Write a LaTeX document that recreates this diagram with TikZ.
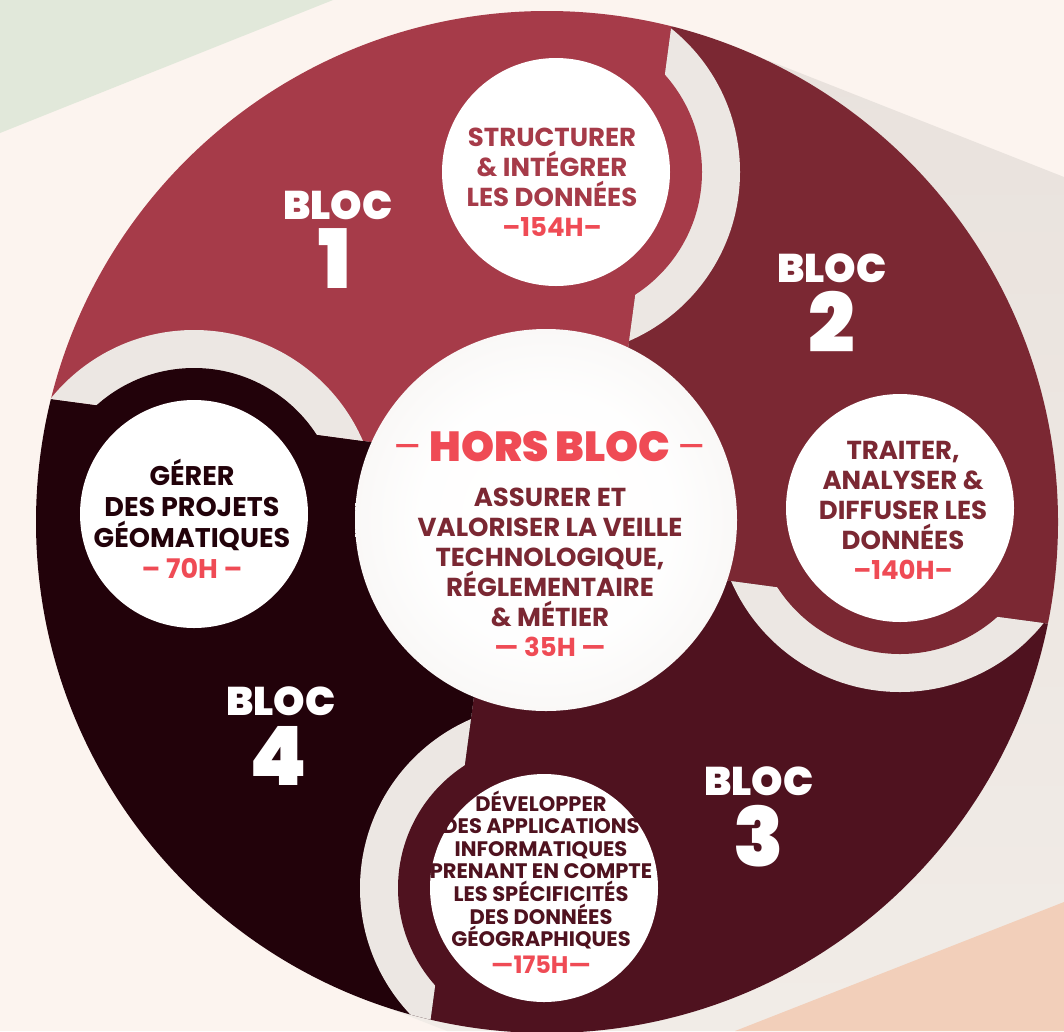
\documentclass[tikz,border=0pt]{standalone}
\usepackage{fontspec}
\setmainfont{Poppins}
\newfontfamily\blocfont{Poppins}[UprightFont=* Black]
\usetikzlibrary{calc}
\newcommand{\pxunit}{1pt}
\definecolor{cream}{HTML}{FCF4EF}
\definecolor{sage}{HTML}{E1E8DA}
\definecolor{peach}{HTML}{F2CFBA}
\definecolor{shadowtop}{HTML}{E9E2DD}
\definecolor{shadowlow}{HTML}{F1ECE7}
\definecolor{halo}{HTML}{ECE7E3}
\definecolor{blocone}{HTML}{A63B49}
\definecolor{bloctwo}{HTML}{7B2833}
\definecolor{blocthree}{HTML}{4F121F}
\definecolor{blocfour}{HTML}{22020A}
\definecolor{hours}{HTML}{EF4B55}
\pgfdeclareradialshading{centreglow}{\pgfpoint{0bp}{0bp}}{color(0bp)=(white); color(16bp)=(white!97!halo); color(50bp)=(halo)}
\newcommand{\bodyone}{(X14) -- ($(X14)!4!(T1b)$) -- (-1500*\pxunit,1500*\pxunit) -- ($(X14)!4!(T4b)$) -- cycle}
\newcommand{\bodytwo}{(X12) -- ($(X12)!4!(T1b)$) -- (2500*\pxunit,1500*\pxunit) -- ($(X12)!4!(T2b)$) -- cycle}
\newcommand{\bodythree}{(X23) -- ($(X23)!4!(T2b)$) -- (2500*\pxunit,-2500*\pxunit) -- ($(X23)!4!(T3b)$) -- cycle}
\newcommand{\bodyfour}{(X34) -- ($(X34)!4!(T3b)$) -- (-1500*\pxunit,-2500*\pxunit) -- ($(X34)!4!(T4b)$) -- cycle}

\begin{document}
\begin{tikzpicture}
\tikzstyle{every node}=[inner sep=0pt, align=center]
\tikzstyle{bloclabel}=[text=white, font={\blocfont\fontsize{40}{40}\selectfont}]
\tikzstyle{blocnum}=[text=white, font={\blocfont\fontsize{82}{82}\selectfont}]
\tikzstyle{circletext}=[font={\bfseries\fontsize{26}{30}\selectfont}]
\useasboundingbox (0,0) rectangle (1064*\pxunit,-1031*\pxunit);

\begin{scope}
\clip (0,0) rectangle (1064*\pxunit,-1031*\pxunit);

\fill[cream] (0,0) rectangle (1064*\pxunit,-1031*\pxunit);

\fill[sage] (0,0) -- (333*\pxunit,0) -- (0,-133*\pxunit) -- cycle;

\shade[top color=shadowtop, bottom color=shadowlow] (734*\pxunit,-47*\pxunit) -- (1064*\pxunit,-177*\pxunit) -- (1064*\pxunit,-1031*\pxunit) -- (447*\pxunit,-1031*\pxunit) -- (360*\pxunit,-997*\pxunit) -- (547*\pxunit,-522*\pxunit) -- cycle;

\fill[peach] (735*\pxunit,-1031*\pxunit) -- (1064*\pxunit,-902*\pxunit) -- (1064*\pxunit,-1031*\pxunit) -- cycle;
\end{scope}

\coordinate (O) at (547*\pxunit,-522*\pxunit);
\coordinate (C) at (546*\pxunit,-520*\pxunit);
\coordinate (W1) at (556*\pxunit,-172*\pxunit);
\coordinate (W2) at (900*\pxunit,-508*\pxunit);
\coordinate (W3) at (544*\pxunit,-888*\pxunit);
\coordinate (W4) at (194*\pxunit,-514*\pxunit);
\coordinate (T1a) at (628*\pxunit,-349*\pxunit);
\coordinate (T1b) at (671*\pxunit,-29*\pxunit);
\coordinate (T2a) at (723*\pxunit,-580*\pxunit);
\coordinate (T2b) at (1043*\pxunit,-623*\pxunit);
\coordinate (T3a) at (472*\pxunit,-711*\pxunit);
\coordinate (T3b) at (429*\pxunit,-1031*\pxunit);
\coordinate (T4a) at (371*\pxunit,-442*\pxunit);
\coordinate (T4b) at (51*\pxunit,-399*\pxunit);
\coordinate (X12) at (intersection of T1a--T1b and T2a--T2b);
\coordinate (X23) at (intersection of T2a--T2b and T3a--T3b);
\coordinate (X34) at (intersection of T3a--T3b and T4a--T4b);
\coordinate (X14) at (intersection of T1a--T1b and T4a--T4b);

\begin{scope}
\clip (O) circle (511*\pxunit);

\fill[blocone] \bodyone;

\fill[bloctwo] \bodytwo;

\fill[blocthree] \bodythree;

\fill[blocfour] \bodyfour;

\begin{scope}
\clip \bodytwo;
\fill[halo] (W1) circle (184*\pxunit);
\end{scope}

\begin{scope}
\clip \bodythree;
\fill[halo] (W2) circle (184*\pxunit);
\end{scope}

\begin{scope}
\clip \bodyfour;
\fill[halo] (W3) circle (184*\pxunit);
\end{scope}

\begin{scope}
\clip \bodyone;
\fill[halo] (W4) circle (184*\pxunit);
\end{scope}

\fill[blocone] (W1) circle (146*\pxunit);
\fill[white] (W1) circle (114*\pxunit);

\fill[bloctwo] (W2) circle (146*\pxunit);
\fill[white] (W2) circle (114*\pxunit);

\fill[blocthree] (W3) circle (146*\pxunit);
\fill[white] (W3) circle (114*\pxunit);

\fill[blocfour] (W4) circle (146*\pxunit);
\fill[white] (W4) circle (114*\pxunit);

\shade[shading=centreglow] (C) circle (191*\pxunit);
\end{scope}

\node[bloclabel] (bloc1) at (338*\pxunit,-205*\pxunit) {BLOC};
\node[blocnum] (num1) at (335*\pxunit,-259*\pxunit) {1};

\node[bloclabel] (bloc2) at (832*\pxunit,-268*\pxunit) {BLOC};
\node[blocnum] (num2) at (832*\pxunit,-322*\pxunit) {2};

\node[bloclabel] (bloc3) at (759*\pxunit,-781*\pxunit) {BLOC};
\node[blocnum] (num3) at (759*\pxunit,-836*\pxunit) {3};

\node[bloclabel] (bloc4) at (281*\pxunit,-701*\pxunit) {BLOC};
\node[blocnum] (num4) at (278*\pxunit,-756*\pxunit) {4};

\node[circletext, text=blocone] (txt1) at (552*\pxunit,-182*\pxunit) {STRUCTURER\\\& INTÉGRER\\LES DONNÉES\\{\color{hours}–154H–}};

\node[circletext, text=bloctwo] (txt2) at (903*\pxunit,-510*\pxunit) {TRAITER,\\ANALYSER \&\\DIFFUSER LES\\DONNÉES\\{\color{hours}–140H–}};

\node[circletext, text=blocthree, font={\bfseries\fontsize{21}{22.6}\selectfont}] (txt3) at (541*\pxunit,-882*\pxunit) {DÉVELOPPER\\DES APPLICATIONS\\INFORMATIQUES\\PRENANT EN COMPTE\\LES SPÉCIFICITÉS\\DES DONNÉES\\GÉOGRAPHIQUES\\[4pt]{\color{hours}\fontsize{24}{24}\selectfont—175H—}};

\node[circletext, text=blocfour, font={\bfseries\fontsize{27}{31}\selectfont}] (txt4) at (192*\pxunit,-519*\pxunit) {GÉRER\\DES PROJETS\\GÉOMATIQUES\\{\color{hours}– 70H –}};

\node[text=hours, font={\blocfont\fontsize{42}{42}\selectfont}] (horsbloc) at (550*\pxunit,-447*\pxunit) {{\normalfont –} HORS BLOC {\normalfont –}};

\node[circletext, text=bloctwo] (txtc) at (550*\pxunit,-572*\pxunit) {ASSURER ET\\VALORISER LA VEILLE\\TECHNOLOGIQUE,\\RÉGLEMENTAIRE\\\& MÉTIER\\{\color{hours}— 35H —}};

\end{tikzpicture}
\end{document}
